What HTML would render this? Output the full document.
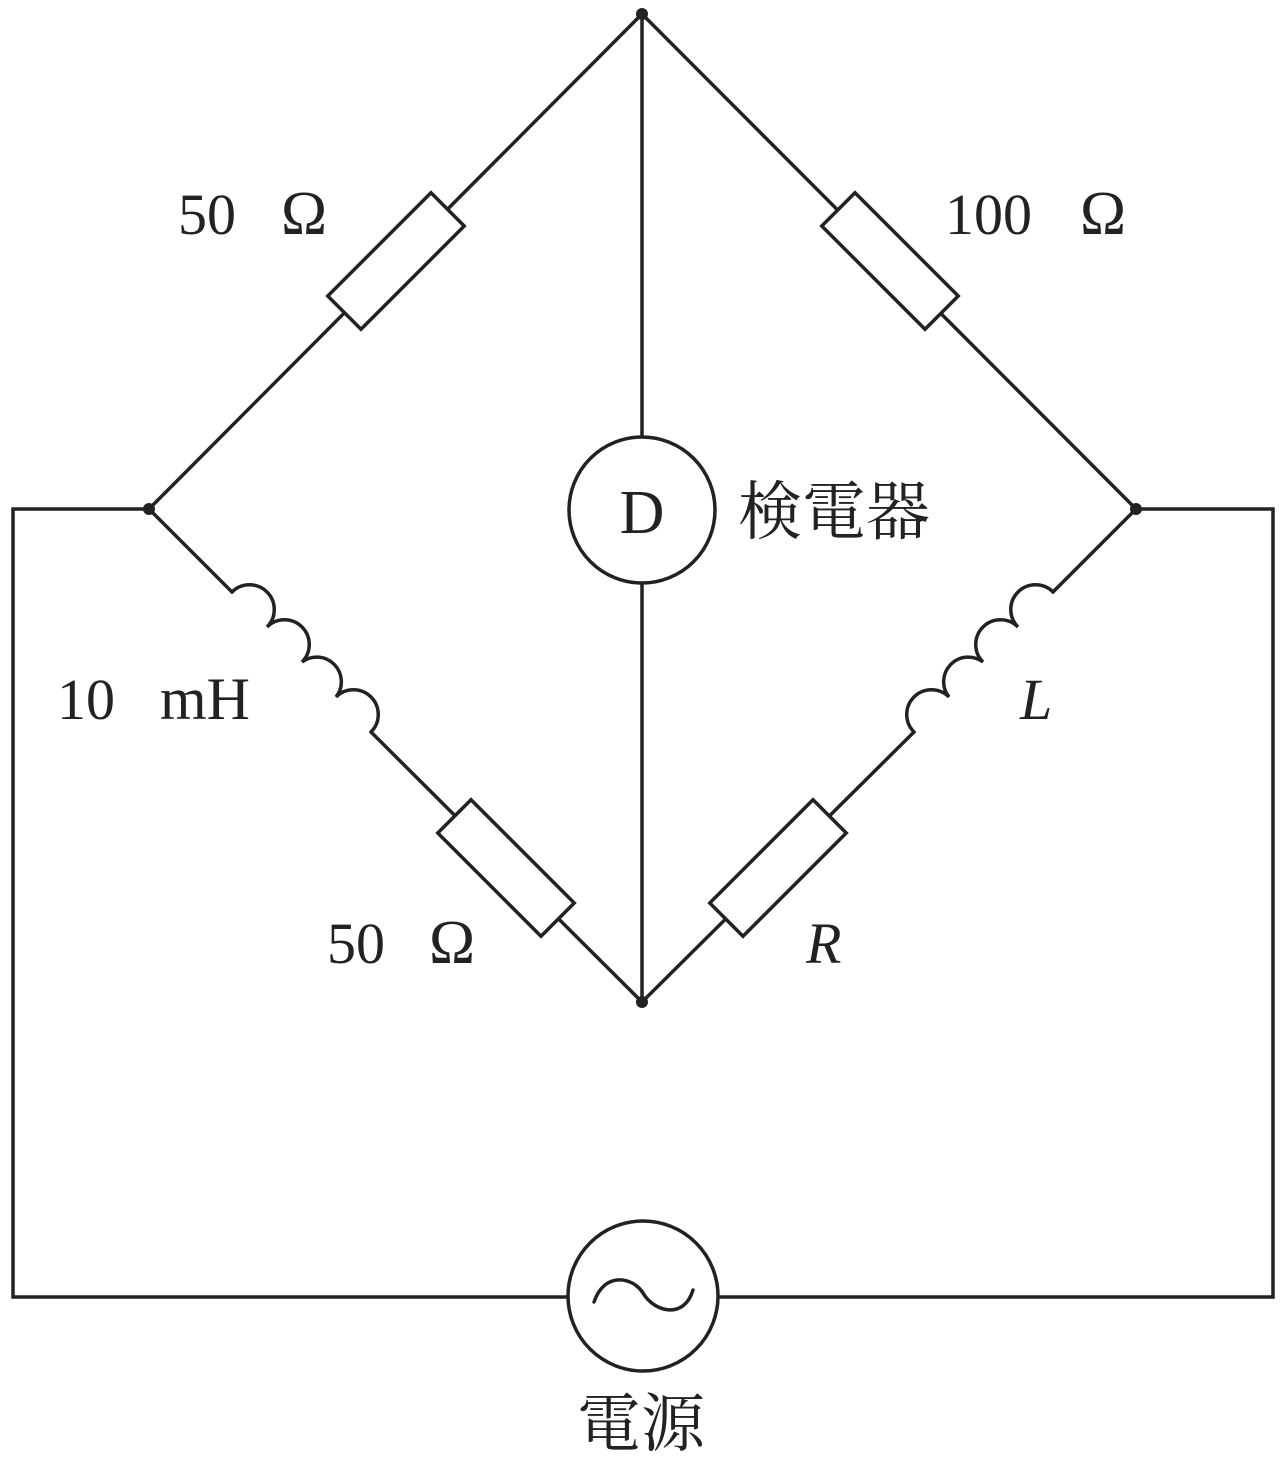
<!DOCTYPE html>
<html><head><meta charset="utf-8"><style>
html,body{margin:0;padding:0;background:#fff;}
svg{display:block;}
text{font-family:"Liberation Serif","Noto Serif CJK SC",serif;fill:#222;}
</style></head><body>
<svg width="1280" height="1459" viewBox="0 0 1280 1459" xmlns="http://www.w3.org/2000/svg">
<g stroke="#222" stroke-width="3.5" fill="none" stroke-linecap="round">
<line x1="642" y1="14" x2="149" y2="509"/>
<line x1="642" y1="14" x2="1136" y2="509"/>
<line x1="642" y1="14" x2="642" y2="437"/>
<line x1="642" y1="583" x2="642" y2="1002"/>
<line x1="149" y1="509" x2="232" y2="592"/>
<line x1="371" y1="732" x2="642" y2="1002"/>
<line x1="1136" y1="509" x2="1053" y2="592"/>
<line x1="914" y1="732" x2="642" y2="1002"/>
<path d="M232,592 A24.6,24.6 0 0 1 267,627 A24.6,24.6 0 0 1 302,662 A24.6,24.6 0 0 1 336,697 A24.6,24.6 0 0 1 371,732"/>
<path d="M1053,592 A24.6,24.6 0 0 0 1018,627 A24.6,24.6 0 0 0 983,662 A24.6,24.6 0 0 0 949,697 A24.6,24.6 0 0 0 914,732"/>
<polyline points="149,509 13,509 13,1297 567,1297"/>
<polyline points="1136,509 1273,509 1273,1297 719,1297"/>
<g fill="#fff">
<rect x="-73" y="-23.5" width="146" height="47" transform="translate(396,261) rotate(-45)"/>
<rect x="-73" y="-23.5" width="146" height="47" transform="translate(890,261) rotate(45)"/>
<rect x="-73" y="-23.5" width="146" height="47" transform="translate(506,868) rotate(45)"/>
<rect x="-73" y="-23.5" width="146" height="47" transform="translate(778,868) rotate(-45)"/>
<circle cx="642" cy="510" r="73"/>
<circle cx="643" cy="1296" r="75"/>
</g>
<path d="M594,1302 C604,1272 632,1276 643,1293 C654,1312 684,1320 693,1290"/>
</g>
<g fill="#222">
<circle cx="642" cy="14" r="6"/>
<circle cx="149" cy="509" r="6"/>
<circle cx="1136" cy="509" r="6"/>
<circle cx="642" cy="1002" r="6"/>
</g>
<text x="642" y="533" font-size="62" text-anchor="middle">D</text>
<text x="738" y="534" font-size="64">検電器</text>
<text x="178" y="234" font-size="58">50</text>
<text x="281" y="234" font-size="62">Ω</text>
<text x="945" y="234" font-size="58">100</text>
<text x="1080" y="234" font-size="62">Ω</text>
<text x="57" y="719" font-size="58">10</text>
<text x="160" y="719" font-size="60">mH</text>
<text x="327" y="963" font-size="58">50</text>
<text x="429" y="963" font-size="62">Ω</text>
<text x="806" y="963" font-size="58" font-style="italic">R</text>
<text x="1020" y="719" font-size="58" font-style="italic">L</text>
<text x="577" y="1446" font-size="64">電源</text>
</svg>
</body></html>
